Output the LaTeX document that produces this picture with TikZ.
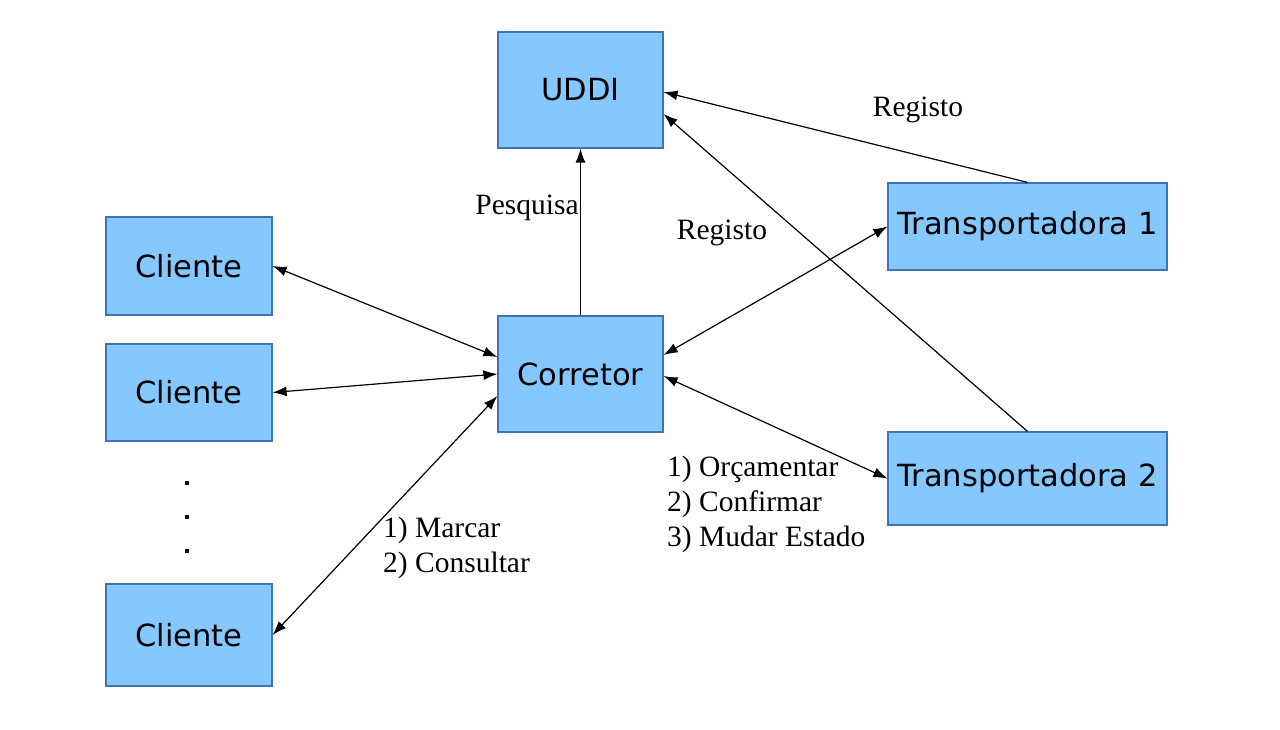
\documentclass[tikz,border=0pt]{standalone}
\usepackage{fontspec}
\setmainfont{Liberation Serif}
\newfontfamily\boxfont{DejaVu Sans}
\usetikzlibrary{arrows.meta,calc}
\definecolor{boxfill}{HTML}{85C8FF}
\definecolor{boxline}{HTML}{3F74B8}
\tikzset{
  ent/.style={draw=boxline, fill=boxfill, line width=1.2pt, inner sep=0pt,
    font=\boxfont\fontsize{30.5}{34}\selectfont},
  conn/.style={line width=1.2pt, -{Latex[length=14pt,width=10pt]}},
  biconn/.style={line width=1.2pt, {Latex[length=14pt,width=10pt]}-{Latex[length=14pt,width=10pt]}},
  lbl/.style={font=\fontsize{29.5}{35}\selectfont, inner sep=0pt, align=left},
  dotsq/.style={fill=black, draw=none, minimum size=4.5pt, inner sep=0pt}
}
\begin{document}
\begin{tikzpicture}[x=1pt,y=-1pt]
\useasboundingbox (0,0) rectangle (1280,730);
\node[ent, minimum width=165pt, minimum height=116pt] (uddi) at (580.5,90) {UDDI};
\node[ent, minimum width=166pt, minimum height=98pt] (cl1) at (189,266) {Cliente};
\node[ent, minimum width=166pt, minimum height=97pt] (cl2) at (189,392.5) {Cliente};
\node[ent, minimum width=166pt, minimum height=102pt] (cl3) at (189,635) {Cliente};
\node[ent, minimum width=165pt, minimum height=116pt] (cor) at (580.5,374) {Corretor};
\node[ent, minimum width=279pt, minimum height=87pt] (t1) at (1027.5,226.5) {Transportadora 1};
\node[ent, minimum width=279pt, minimum height=93pt] (t2) at (1027.5,478.5) {Transportadora 2};
\node[dotsq] (d1) at (187,483) {};
\node[dotsq] (d2) at (187,517) {};
\node[dotsq] (d3) at (187,551) {};
\draw[biconn] (cl1.east) -- ([yshift=17pt]cor.west);
\draw[biconn] (cl2.east) -- (cor.west);
\draw[biconn] (cl3.east) -- ([yshift=-22pt]cor.west);
\draw[conn] (cor.north) -- (uddi.south);
\draw[conn] (t1.north) -- ([yshift=-2pt]uddi.east);
\draw[conn] (t2.north) -- ([yshift=-24pt]uddi.east);
\draw[biconn] ([yshift=19pt]cor.east) -- (t1.west);
\draw[biconn] ([yshift=-2pt]cor.east) -- (t2.west);
\node[lbl] (lreg1) at (918,110) {Registo};
\node[lbl] (lpes) at (527,208) {Pesquisa};
\node[lbl] (lreg2) at (722,233) {Registo};
\node[lbl, anchor=west] (lmar) at (383,548) {1) Marcar\\2) Consultar};
\node[lbl, anchor=west] (lorc) at (667,504) {1) Orçamentar\\2) Confirmar\\3) Mudar Estado};
\end{tikzpicture}
\end{document}
